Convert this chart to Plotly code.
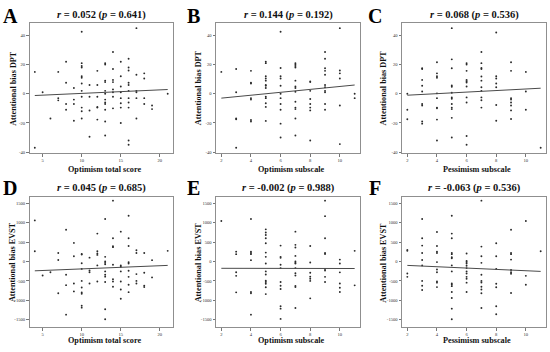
import plotly.graph_objects as go

# ---------------- data ----------------
# x value -> list of y values
A_PTS = {4: [15, -37], 5: [1], 6: [-17], 7: [15, -3, -4.5], 8: [22, 7.5, -7, -11],
         9: [4, -4, -7, -18.5],
         10: [42.5, 21, 19, 18, 12, 11, 7, 2, -2, -9.5, -12, -17],
         11: [6, -2, -11.5, -29.5], 12: [15.7, 6, -2, -9, -9.5, -17.7],
         13: [21, 20, 9, 8, 2, 0, -4, -6, -7, -11, -19, -28.6],
         14: [28.6, 17, 9.5, 8, 3, 1, -2, -10],
         15: [22, 12, 5, 1, -3, -6.5, -9.5, -20],
         16: [24, 18, 16, 7.5, 6, 2, -3, -6, -9.5, -32, -35],
         17: [45, 13, 2, 1, -3, -17], 18: [14, 10.5, -3, -7], 19: [-8, -10.5], 21: [0]}

B_PTS = {2: [15], 3: [17, 1, -17, -17.5, -37],
         4: [15.7, 7.5, 7, -3, -4, -18, -19],
         5: [22, 21, 12, 10.5, 9, 6, 5.5, 4, -2, -3, -6.5, -9, -18.6],
         6: [42.5, 17.7, 12, 10.5, 5.5, 0, -3, -7, -11, -20.5, -30],
         7: [21, 20, 19, 18, 9, 5, 4, 1.4, -5.5, -9.5, -10.5, -17, -28.6],
         8: [8.5, 8, 2, -3.6, -7, -9.5, -11.4, -32],
         9: [28.6, 24, 17.5, 15.7, 13, 6, 4.5, 2, 1, -7, -11],
         10: [45, 16, 14, 10.5, -8, -34.5], 11: [0, -3]}

C_PTS = {2: [0, -11, -17.5], 3: [17.5, 17, 9.5, 5.5, 1.6, -7, -8, -19, -20.5],
         4: [21.6, 14, 12, 11, 0.3, -3, -9.5, -10, -17.7, -32],
         5: [45, 23.6, 17.5, 5.7, 4.8, 0.7, -2.5, -3.4, -7, -9.5, -10.5, -16.5, -30],
         6: [21, 20, 15.7, 9.5, 8.6, 7.7, 5, -2.5, -6, -29, -35],
         7: [28.6, 21, 17.7, 17, 11.8, 9, 4.5, 2, -2.5, -4.4, -9.5],
         8: [42, 12, 10.5, 7, 4.5, -7.7, -18.5],
         9: [21.6, 15.7, -3, -4, -6, -8, -11.4, -17.3],
         10: [15, 1.6, -11], 11: [-37]}

D_PTS = {4: [1060, 265], 5: [-360], 6: [-275], 7: [220, 40, -820],
         8: [820, -340, -610, -1370], 9: [480, 135, -565, -770],
         10: [195, 180, -45, -190, -500, -670, -800, -830, -1140, -1190],
         11: [100, -230, -275, -565], 12: [720, 265, 205, 170, -100, -515],
         13: [1095, 120, 0, -35, -70, -255, -340, -390, -530, -1230, -1490],
         14: [1570, 600, 395, 370, -85, -455, -515, -650],
         15: [770, -100, -135, -255, -515, -720, -960],
         16: [1180, 600, 400, -20, -50, -240, -395, -600, -790],
         17: [290, 220, -325, -500, -565], 18: [220, -290, -625, -660],
         19: [35, -410], 21: [275]}

E_PTS = {2: [1045], 3: [255, 190, -275, -370, -795],
         4: [1095, 255, 220, 190, 35, -785, -820, -1370],
         5: [830, 750, 685, 600, 470, 230, 120, -50, -255, -335, -495, -530, -575, -665, -840],
         6: [410, 120, 95, -85, -170, -530, -625, -710, -1155, -1215, -1480],
         7: [770, 430, 360, 145, 0, -35, -50, -170, -300, -360, -630, -660, -1200],
         8: [400, -25, -290, -390, -445, -500, -950],
         9: [1570, 1170, 600, 220, 195, -190, -230, -395, -530],
         10: [50, -50, -280, -565, -675, -785], 11: [275, -615]}

F_PTS = {2: [300, 275, -310, -395],
         3: [1095, 600, 410, 220, 40, -100, -500, -625, -735],
         4: [760, 400, 255, 220, -15, -205, -275, -515, -545, -660],
         5: [1180, 720, 600, 220, 190, 110, 85, -100, -255, -565, -600, -635, -785, -940, -1215, -1490],
         6: [205, 15, -15, -50, -110, -170, -255, -310, -395, -445, -545, -785],
         7: [1570, 385, 135, -35, -340, -500, -540, -650, -720, -820, -1200],
         8: [470, 135, -190, -575, -665, -1155, -1360],
         9: [820, 220, 190, 50, -220, -275, -315, -810],
         10: [1045, -370, -600], 11: [265]}

# fitted regression line: y at the smallest and largest x
A_FIT = [-1.2, 2.9]
B_FIT = [-3.0, 6.0]
C_FIT = [-1.0, 3.8]
D_FIT = [-240, -100]
E_FIT = [-175, -180]
F_FIT = [-100, -255]

LETTERS = ["A", "B", "C", "D", "E", "F"]
R_VALUES = ["0.052", "0.144", "0.068", "0.045", "-0.002", "-0.063"]
P_VALUES = ["0.641", "0.192", "0.536", "0.685", "0.988", "0.536"]
X_TITLES = ["Optimism total score", "Optimism subscale", "Pessimism subscale"] * 2
Y_TITLES = ["Attentional bias DPT"] * 3 + ["Attentional bias EVST"] * 3

TOTAL_TICKS = [5, 10, 15, 20]
SUB_TICKS = [2, 4, 6, 8, 10]
DPT_TICKS = [-40, -20, 0, 20, 40]
EVST_TICKS = [-1500, -1000, -500, 0, 500, 1000, 1500]

# ---------------- layout ----------------
W, H = 550, 352
COLS = [(29.5, 173.0), (216.0, 360.0), (402.0, 546.0)]
ROWS = [(23.3, 154.0), (198.5, 329.2)]
XRANGES = [[3.32, 21.68], [1.64, 11.36], [1.64, 11.36]]
YRANGES = [[-40.7, 48.4], [-1697, 1654]]
YLAB_X = [12.7, 198.0, 383.3]
LET_X = [10.0, 193.0, 375.0]
TITLE_Y = [15.5, 189.0]
LET_Y = [16.5, 189.5]
XLAB_Y = [170.5, 342.7]
SERIF = "Liberation Serif, Times New Roman, serif"

panels = [A_PTS, B_PTS, C_PTS, D_PTS, E_PTS, F_PTS]
fits = [A_FIT, B_FIT, C_FIT, D_FIT, E_FIT, F_FIT]

fig = go.Figure()
annotations = []


def px(x):
    return x / W


def py(y):
    return 1 - y / H


for i, pts in enumerate(panels):
    r, c = divmod(i, 3)
    xs, ys = [], []
    for xv, yl in pts.items():
        for yv in yl:
            xs.append(xv)
            ys.append(yv)
    ax = "" if i == 0 else str(i + 1)
    fig.add_trace(go.Scatter(x=xs, y=ys, mode="markers", xaxis="x" + ax, yaxis="y" + ax,
                             marker=dict(size=1.9, color="#2a2a2a"), showlegend=False,
                             hoverinfo="skip"))
    xmin, xmax = min(pts), max(pts)
    fig.add_trace(go.Scatter(x=[xmin, xmax], y=fits[i], mode="lines", xaxis="x" + ax,
                             yaxis="y" + ax, line=dict(color="#4a4a4a", width=1.0),
                             showlegend=False, hoverinfo="skip"))

    x0, x1 = COLS[c]
    y0, y1 = ROWS[r]
    xt = TOTAL_TICKS if c == 0 else SUB_TICKS
    yt = DPT_TICKS if r == 0 else EVST_TICKS
    common = dict(showline=True, mirror=True, linecolor="#8f8f8f", linewidth=1,
                  ticks="outside", ticklen=2.5, tickwidth=0.8, tickcolor="#555555",
                  showgrid=False, zeroline=False,
                  tickfont=dict(family=SERIF, size=4.6, color="#333333"))
    fig.layout["xaxis" + ax] = dict(domain=[px(x0), px(x1)], range=XRANGES[c],
                                    anchor="y" + ax, tickvals=xt,
                                    ticktext=[str(v) for v in xt], **common)
    fig.layout["yaxis" + ax] = dict(domain=[py(y1), py(y0)], range=YRANGES[r],
                                    anchor="x" + ax, tickvals=yt,
                                    ticktext=[str(v) for v in yt], **common)

    cx = (x0 + x1) / 2
    annotations.append(dict(x=px(cx), y=py(TITLE_Y[r]), xref="paper", yref="paper",
                            text=f"<b><i>r</i> = {R_VALUES[i]} (<i>p</i> = {P_VALUES[i]})</b>",
                            showarrow=False, xanchor="center", yanchor="middle",
                            font=dict(family=SERIF, size=10.5, color="#111111")))
    annotations.append(dict(x=px(LET_X[c]), y=py(LET_Y[r]), xref="paper", yref="paper",
                            text=f"<b>{LETTERS[i]}</b>", showarrow=False,
                            xanchor="center", yanchor="middle",
                            font=dict(family=SERIF, size=20, color="#000000")))
    annotations.append(dict(x=px(cx + 3), y=py(XLAB_Y[r]), xref="paper", yref="paper",
                            text=f"<b>{X_TITLES[i]}</b>", showarrow=False,
                            xanchor="center", yanchor="middle",
                            font=dict(family=SERIF, size=8.2, color="#111111")))
    annotations.append(dict(x=px(YLAB_X[c]), y=py((y0 + y1) / 2), xref="paper", yref="paper",
                            text=f"<b>{Y_TITLES[i]}</b>", showarrow=False, textangle=-90,
                            xanchor="center", yanchor="middle",
                            font=dict(family=SERIF, size=8.2, color="#111111")))

fig.update_layout(width=W, height=H, autosize=False,
                  margin=dict(l=0, r=0, t=0, b=0),
                  paper_bgcolor="white", plot_bgcolor="white",
                  hovermode=False,
                  annotations=annotations)

fig.write_html("out.html",
               config={"displayModeBar": False, "staticPlot": True},
               post_script="document.body.style.margin='0';document.body.style.overflow='hidden';")
